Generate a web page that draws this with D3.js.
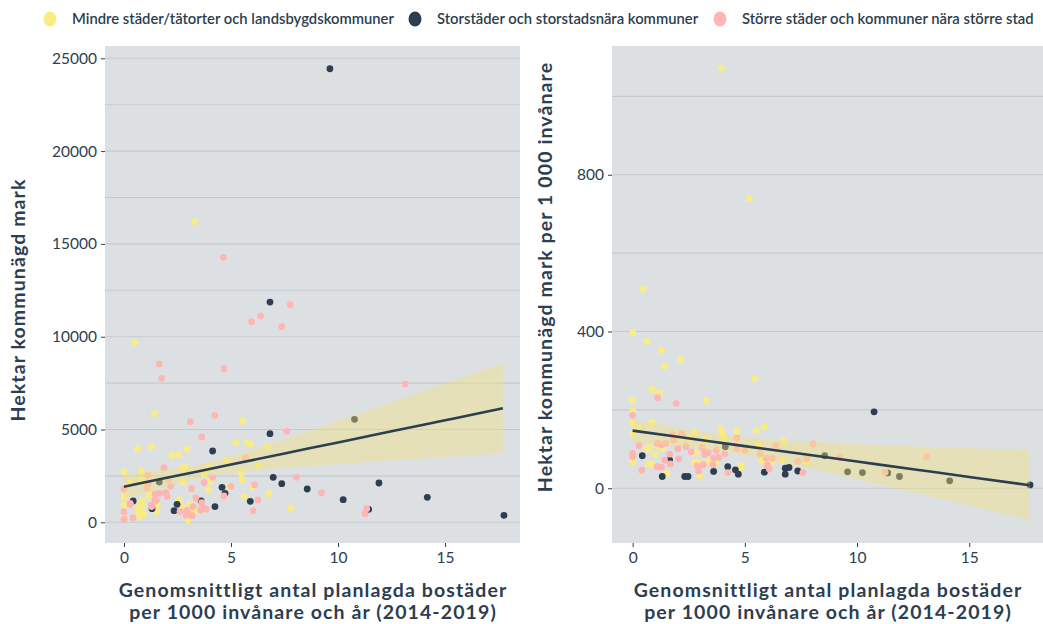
<!DOCTYPE html>
<html>
<head>
<meta charset="utf-8">
<script src="https://cdn.jsdelivr.net/npm/d3@7"></script>
<style>
  html, body { margin: 0; padding: 0; background: #ffffff; }
  svg { display: block; font-family: Lato, "Open Sans", sans-serif; }
</style>
</head>
<body>
<svg id="chart" width="1043" height="624"></svg>
<script>
// Municipality groups
const groups = [
  "Mindre städer/tätorter och landsbygdskommuner",
  "Storstäder och storstadsnära kommuner",
  "Större städer och kommuner nära större stad"
];
const groupColors = ["#f9ec84", "#2c3e50", "#ffb5b2"];

// Left panel: [planned dwellings per 1000 inhabitants/year, hectares of municipal land]
const leftSmall = [[3.30,16193],[0.48,9696],[1.42,5850],[5.54,5473],[1.29,4073],[0.64,3949],[5.22,4288],[5.75,4310],[5.90,4202],[6.68,4057],[2.23,3588],[2.57,3642],[2.94,3949],[4.80,3319],[6.26,3049],[2.76,2941],[2.86,2963],[3.96,2925],[0,2710],[0.81,2747],[5.47,2640],[3.75,2586],[5.53,2279],[0.81,2279],[2.77,2171],[4.02,2209],[0.31,2133],[6.03,1902],[3.96,1740],[4.87,1939],[1.18,1454],[1.42,1541],[0,1363],[5.62,1401],[6.76,1541],[2.57,1201],[0.85,1164],[0.75,1001],[3.08,986],[0,931],[1.57,931],[2.72,840],[0.64,754],[3.24,555],[3.33,625],[7.79,770],[1.53,571],[0.70,447],[0.92,430],[0.75,302],[0,269],[3.0,140],[0.87,808],[0.69,733]];
const leftMetro = [[9.62,24436],[6.82,11868],[10.77,5549],[6.82,4773],[4.14,3841],[6.97,2424],[7.37,2079],[1.65,2171],[11.91,2117],[8.56,1794],[4.58,1885],[4.72,1562],[3.60,1150],[0.43,1147],[5.90,1131],[10.24,1217],[14.17,1347],[2.48,970],[2.34,625],[4.25,840],[11.43,700],[1.31,733],[17.75,377]];
const leftLarge = [[4.64,14276],[7.77,11723],[5.96,10806],[6.38,11113],[7.37,10537],[1.65,8527],[1.76,7757],[4.67,8275],[13.14,7450],[4.24,5764],[3.10,5419],[7.60,4902],[3.63,4595],[5.68,3480],[1.87,2941],[1.12,2532],[4.14,2424],[8.05,2424],[2.07,2316],[3.74,2133],[1.13,2101],[6.10,2009],[2.18,1955],[5.0,1939],[0,1794],[1.07,1848],[3.16,1810],[1.96,1595],[1.45,1525],[1.68,1562],[9.23,1595],[4.67,1417],[2.02,1379],[3.36,1309],[6.26,1201],[1.45,1201],[3.63,1056],[0.29,1023],[1.51,1185],[0.29,970],[1.27,931],[1.29,840],[3.22,840],[3.66,808],[3.85,717],[3.58,663],[2.94,625],[2.62,592],[6.03,625],[11.34,733],[11.26,463],[0,555],[0.42,248],[2.90,377],[3.18,356],[0,162]];

// Right panel: [planned dwellings per 1000 inhabitants/year, hectares per 1 000 inhabitants]
const rightSmall = [[3.95,1072],[5.20,740],[0.47,508],[0,397],[0.64,375],[1.28,353],[2.15,328],[1.41,311],[5.44,280],[0.86,252],[1.19,243],[3.28,223],[0,225],[0,198],[0,166],[0.85,169],[0.29,154],[0,139],[6.73,120],[5.87,157],[5.50,147],[7.79,68],[6.66,72],[6.20,68],[5.75,69],[5.60,113],[4.64,145],[4.85,58],[4.78,51],[3.94,153],[3.98,140],[4.06,128],[3.70,65],[3.25,125],[3.37,68],[2.76,144],[2.84,92],[2.72,90],[2.99,32],[2.75,65],[2.93,66],[2.55,128],[2.23,128],[1.53,38],[1.17,107],[1.31,102],[0.77,104],[0.62,100],[1.01,85],[0.70,63],[0.86,61],[0,65]];
const rightMetro = [[10.76,195],[0.43,83],[1.32,30],[2.32,30],[2.47,30],[3.61,43],[4.24,55],[4.58,47],[4.71,36],[5.87,41],[6.80,36],[6.80,51],[6.97,53],[7.36,44],[1.65,72],[4.13,106],[8.56,83],[9.58,42],[10.24,40],[11.37,39],[11.89,30],[14.13,19],[17.71,8.4]];
const rightLarge = [[1.11,231],[1.94,216],[0,186],[1.10,115],[0.29,109],[0,89],[0,81],[0.41,46],[7.59,40],[13.1,80],[11.25,41],[9.24,78],[8.04,113],[6.38,109],[7.76,75],[7.36,69],[6.22,77],[5.94,77],[5.68,89],[6.09,49],[6.01,59],[4.99,97],[4.64,128],[4.65,101],[4.24,40],[4.11,88],[3.83,79],[3.73,97],[3.61,77],[3.58,60],[3.37,91],[3.22,93],[3.22,86],[3.09,105],[2.61,93],[2.38,106],[2.88,57],[2.94,44],[3.15,60],[2.17,138],[2.21,137],[1.77,137],[1.83,123],[2.02,101],[2.05,75],[1.65,87],[1.68,62],[1.43,72],[1.48,115],[1.28,111],[1.28,54],[1.08,55]];

// Linear trend with confidence band: [x, lower, fit, upper]
const leftTrend = [[0,1220,1920,2620],[2,1944,2397,2850],[3.5,2379,2755,3131],[5,2660,3113,3566],[7.5,2937,3709,4481],[10,3146,4305,5464],[12.5,3337,4901,6465],[15,3522,5498,7474],[17.7,3717,6142,8567]];
const rightTrend = [[0,117,147,177],[2,108.4,131.3,154.2],[3.5,98.4,119.4,140.4],[5,84.7,107.6,130.5],[7.5,55.7,87.9,120.1],[10,23.2,68.2,113.2],[12.5,-10.3,48.6,107.5],[15,-44.5,28.9,102.3],[17.7,-81.7,7.7,97.1]];

const xTicks = [0, 5, 10, 15];
const leftYTicks = [0, 5000, 10000, 15000, 20000, 25000];
const rightYTicks = [0, 400, 800];

const xTitle = ["Genomsnittligt antal planlagda bostäder", "per 1000 invånare och år (2014-2019)"];
const leftYTitle = "Hektar kommunägd mark";
const rightYTitle = "Hektar kommunägd mark per 1 000 invånare";

const ink = "#2c3e50";
const svg = d3.select("#chart");

function panel(cfg) {
  const x = d3.scaleLinear().domain(cfg.xDomain).range([cfg.left, cfg.right]);
  const y = d3.scaleLinear().domain(cfg.yDomain).range([cfg.bottom, cfg.top]);
  const g = svg.append("g");
  const clipId = "clip-" + cfg.name;
  svg.append("clipPath").attr("id", clipId)
    .append("rect").attr("x", cfg.left).attr("y", cfg.top)
    .attr("width", cfg.right - cfg.left).attr("height", cfg.bottom - cfg.top);

  g.append("rect").attr("x", cfg.left).attr("y", cfg.top)
    .attr("width", cfg.right - cfg.left).attr("height", cfg.bottom - cfg.top)
    .attr("fill", "#dde0e3");

  // horizontal grid: major at ticks, minor halfway between
  const step = cfg.yTicks[1] - cfg.yTicks[0];
  const grid = [];
  for (let v = cfg.yTicks[0] - step; v <= cfg.yDomain[1]; v += step / 2) {
    if (v >= cfg.yDomain[0]) grid.push(v);
  }
  g.append("g").selectAll("line").data(grid).join("line")
    .attr("x1", cfg.left).attr("x2", cfg.right)
    .attr("y1", d => y(d)).attr("y2", d => y(d))
    .attr("stroke", "#c6cacf").attr("stroke-width", 1.1);

  const pts = g.append("g").attr("clip-path", `url(#${clipId})`);
  cfg.series.forEach((s, i) => {
    pts.append("g").selectAll("circle").data(s).join("circle")
      .attr("cx", d => x(d[0])).attr("cy", d => y(d[1]))
      .attr("r", 3.4).attr("fill", groupColors[i]);
  });

  const band = d3.area().x(d => x(d[0])).y0(d => y(d[1])).y1(d => y(d[3])).curve(d3.curveMonotoneX);
  pts.append("path").datum(cfg.trend).attr("d", band)
    .attr("fill", "#f2e276").attr("fill-opacity", 0.4);
  const line = d3.line().x(d => x(d[0])).y(d => y(d[2])).curve(d3.curveMonotoneX);
  pts.append("path").datum(cfg.trend).attr("d", line)
    .attr("fill", "none").attr("stroke", ink).attr("stroke-width", 2.6);

  // axes
  const ya = d3.axisLeft(y).tickValues(cfg.yTicks).tickSize(4).tickPadding(4).tickFormat(d3.format("d"));
  const yg = g.append("g").attr("transform", `translate(${cfg.left},0)`).call(ya);
  yg.select(".domain").remove();
  yg.selectAll("line").attr("stroke", ink);
  yg.selectAll("text").attr("fill", ink).style("font-size", "15.5px").attr("font-family", "Lato, sans-serif");

  const xa = d3.axisBottom(x).tickValues(xTicks).tickSize(4).tickPadding(5);
  const xg = g.append("g").attr("transform", `translate(0,${cfg.bottom})`).call(xa);
  xg.select(".domain").remove();
  xg.selectAll("line").attr("stroke", ink);
  xg.selectAll("text").attr("fill", ink).style("font-size", "15.5px").attr("font-family", "Lato, sans-serif");

  const tx = g.append("text").attr("text-anchor", "middle")
    .attr("fill", ink).style("font-size", "19.5px").style("font-weight", "700")
    .style("letter-spacing", "1.1px");
  xTitle.forEach((t, i) => {
    tx.append("tspan").attr("x", cfg.xTitleX).attr("y", 597 + i * 22).text(t);
  });

  g.append("text").attr("text-anchor", "middle")
    .attr("transform", `translate(${cfg.yTitleX},${cfg.yTitleY}) rotate(-90)`)
    .attr("fill", ink).style("font-size", "19.5px").style("font-weight", "700")
    .style("letter-spacing", "1.1px")
    .text(cfg.yTitle);
}

panel({
  name: "left", left: 105, right: 520, top: 46, bottom: 543,
  xDomain: [-0.887, 18.5], yDomain: [-1115, 25663],
  yTicks: leftYTicks, series: [leftSmall, leftMetro, leftLarge],
  trend: leftTrend, xTitleX: 313, yTitle: leftYTitle, yTitleX: 25, yTitleY: 300
});
panel({
  name: "right", left: 612, right: 1050, top: 46, bottom: 543,
  xDomain: [-0.92, 18.6], yDomain: [-139.7, 1128.6],
  yTicks: rightYTicks, series: [rightSmall, rightMetro, rightLarge],
  trend: rightTrend, xTitleX: 828, yTitle: rightYTitle, yTitleX: 552, yTitleY: 277
});

// legend
const legendDot = [50, 415, 720];
const legendText = [72, 437, 742];
const lg = svg.append("g");
groups.forEach((name, i) => {
  lg.append("ellipse").attr("cx", legendDot[i]).attr("cy", 19).attr("rx", 6.5).attr("ry", 7.5)
    .attr("fill", groupColors[i]);
  lg.append("text").attr("x", legendText[i]).attr("y", 24)
    .attr("fill", ink).style("font-size", "14.8px").style("font-weight", "600")
    .text(name);
});
</script>
</body>
</html>
